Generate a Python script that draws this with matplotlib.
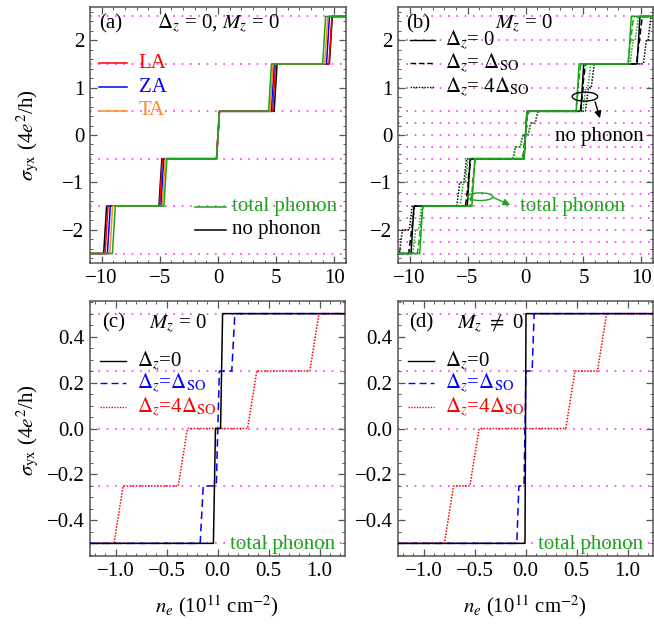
import numpy as np
import matplotlib
matplotlib.use("Agg")
import matplotlib.pyplot as plt
from matplotlib.lines import Line2D
from matplotlib.patches import Ellipse, FancyArrowPatch
from matplotlib.ticker import MultipleLocator, FuncFormatter
from matplotlib import font_manager

serif_choices = [f.name for f in font_manager.fontManager.ttflist]
SERIF = "Liberation Serif" if "Liberation Serif" in serif_choices else "STIXGeneral"
plt.rcParams["font.family"] = "serif"
plt.rcParams["font.serif"] = [SERIF, "STIXGeneral", "DejaVu Serif"]
plt.rcParams["mathtext.fontset"] = "stix"

FS = 15
GREEN = "#1aa51a"
ORANGE = "#ff8a1c"
MAGENTA = "#ff33ff"
FRAME = "#555555"

# ---------------- data ----------------
# plateau values (units of 4e^2/h)
plateaus_int = [-2.5, -1.5, -0.5, 0.5, 1.5, 2.5]

# (a) step centres, n_e in 10^11 cm^-2
a_nophonon = [-9.7, -4.95, 0.0, 4.95, 9.7]
a_LA = [-9.58, -4.9, 0.0, 4.82, 9.66]
a_ZA = [-9.38, -4.78, 0.0, 4.7, 9.45]
a_TA = [-9.18, -4.66, 0.0, 4.6, 9.3]
a_total = [-8.95, -4.52, 0.0, 4.47, 9.12]

# (b) step centres and plateau values
b_nophonon_0 = [-9.75, -4.9, 0.0, 4.9, 9.75]
b_total_0 = [-9.0, -4.5, 0.0, 4.5, 9.0]
b_vals_1 = [-2.5, -2.0, -1.5, -1.0, -0.5, -0.25, 0.25, 0.5, 1.0, 1.5, 2.0, 2.5]
b_nophonon_1 = [-9.95, -9.7, -5.05, -4.85, -0.16, 0.0, 0.16, 4.85, 5.05, 9.7, 9.95]
b_total_1 = [-9.2, -8.95, -4.65, -4.45, -0.16, 0.0, 0.16, 4.45, 4.65, 8.95, 9.2]
b_vals_4 = [-2.5, -2.0, -1.5, -1.0, -0.5, -0.25, 0.0, 0.25, 0.5, 1.0, 1.5, 2.0, 2.5]
b_nophonon_4 = [-10.75, -9.9, -5.8, -5.2, -0.97, -0.34, 0.34, 0.95, 5.3, 5.8, 10.3, 10.7]
b_total_4 = [-9.6, -9.1, -5.5, -5.07, -0.97, -0.34, 0.34, 0.95, 5.07, 5.5, 9.15, 9.6]

# (c) M_z = 0, total phonon
c_dz0 = [-0.03, 0.04]
c_dz0_vals = [-0.5, 0.0, 0.5]
c_dz1 = [-0.155, 0.003, 0.155]
c_dz1_vals = [-0.5, -0.25, 0.25, 0.5]
c_dz4 = [-0.97, -0.34, 0.34, 0.95]
c_dz4_vals = [-0.5, -0.25, 0.0, 0.25, 0.5]

# (d) M_z != 0, total phonon
d_dz0 = [0.0]
d_dz0_vals = [-0.5, 0.5]
d_dz1 = [-0.075, -0.005, 0.075]
d_dz1_vals = [-0.5, -0.25, 0.25, 0.5]
d_dz4 = [-0.75, -0.5, 0.44, 0.75]
d_dz4_vals = [-0.5, -0.25, 0.0, 0.25, 0.5]

grid_a = [-2.5, -1.5, -0.5, 0.5, 1.5, 2.5]
grid_b = [-2.5, -2.25, -2.0, -1.75, -1.5, -1.25, -1.0, -0.75, -0.5, -0.25,
          0.0, 0.25, 0.5, 1.0, 1.5, 2.0, 2.5]
grid_cd = [-0.5, -0.25, 0.0, 0.25, 0.5]


def staircase(centres, values, width, xlim):
    """Polyline through plateaus joined by short linear ramps."""
    xs = [xlim[0]]
    ys = [values[0]]
    for c, y0, y1 in zip(centres, values[:-1], values[1:]):
        xs += [c - width / 2, c + width / 2]
        ys += [y0, y1]
    xs.append(xlim[1])
    ys.append(values[-1])
    return np.array(xs), np.array(ys)


fig = plt.figure(figsize=(6.54, 6.25), dpi=100)
W, H = 654.0, 625.0


def add_ax(x0, y0, x1, y1):
    return fig.add_axes([x0 / W, 1 - y1 / H, (x1 - x0) / W, (y1 - y0) / H])


ax_a = add_ax(90, 7, 346, 263)
ax_b = add_ax(398, 7, 653, 263)
ax_c = add_ax(90, 301, 345, 556)
ax_d = add_ax(398, 301, 653, 556)


def minus_fmt(decimals):
    def f(v, pos):
        s = f"{abs(v):.{decimals}f}"
        if abs(v) < 1e-9:
            return s
        return ("\u2212" if v < 0 else "") + s
    return FuncFormatter(f)


def style(ax, xlim, ylim, xmaj, xmin, ymaj, ymin, dec_x, dec_y):
    ax.set_xlim(*xlim)
    ax.set_ylim(*ylim)
    ax.xaxis.set_major_locator(MultipleLocator(xmaj))
    ax.xaxis.set_minor_locator(MultipleLocator(xmin))
    ax.yaxis.set_major_locator(MultipleLocator(ymaj))
    ax.yaxis.set_minor_locator(MultipleLocator(ymin))
    ax.xaxis.set_major_formatter(minus_fmt(dec_x))
    ax.yaxis.set_major_formatter(minus_fmt(dec_y))
    ax.tick_params(which="both", direction="in", top=True, right=True,
                   color=FRAME, labelsize=FS, pad=4)
    ax.tick_params(which="major", length=5, width=0.9)
    ax.tick_params(which="minor", length=2.5, width=0.7)
    for s in ax.spines.values():
        s.set_color(FRAME)
        s.set_linewidth(1.1)


def hgrid(ax, levels, xlim):
    for y in levels:
        ax.plot(xlim, [y, y], color=MAGENTA, lw=1.2, ls=(0, (1, 4)), zorder=1)


# ---------------- (a) ----------------
XL = (-11, 11)
style(ax_a, XL, (-2.7, 2.7), 5, 1, 1, 0.2, 0, 0)
hgrid(ax_a, grid_a, XL)
for cen, col in [(a_nophonon, "black"), (a_LA, "red"), (a_ZA, "blue"),
                 (a_TA, ORANGE), (a_total, GREEN)]:
    x, y = staircase(cen, plateaus_int, 0.25, XL)
    ax_a.plot(x, y, color=col, lw=1.1, zorder=3)

ax_a.text(0.08, 0.936, "(a)", transform=ax_a.transAxes, fontsize=FS,
          ha="center", va="center")
ax_a.text(0.50, 0.936, r"$\Delta_z$ = 0, $M_z$ = 0", transform=ax_a.transAxes,
          fontsize=FS, ha="center", va="center")
for yy, lab, col in [(0.78, "LA", "red"), (0.686, "ZA", "blue"), (0.594, "TA", ORANGE)]:
    ax_a.add_line(Line2D([0.035, 0.145], [yy, yy], color=col, lw=1.1,
                         transform=ax_a.transAxes))
    ax_a.text(0.19, yy, lab, color=col, fontsize=FS, transform=ax_a.transAxes,
              va="center", ha="left")
for yy, lab, col in [(0.22, "total phonon", GREEN), (0.129, "no phonon", "black")]:
    ax_a.add_line(Line2D([0.41, 0.53], [yy, yy], color=col, lw=1.1,
                         transform=ax_a.transAxes))
    ax_a.text(0.553, yy, lab, color=col, fontsize=FS, transform=ax_a.transAxes,
              va="center", ha="left")

# ---------------- (b) ----------------
style(ax_b, XL, (-2.7, 2.7), 5, 1, 1, 0.2, 0, 0)
hgrid(ax_b, grid_b, XL)
curves_b = [
    (b_nophonon_0, plateaus_int, "black", "-"),
    (b_nophonon_1, b_vals_1, "black", (0, (4, 2))),
    (b_nophonon_4, b_vals_4, "black", (0, (1, 1))),
    (b_total_1, b_vals_1, GREEN, (0, (4, 2))),
    (b_total_4, b_vals_4, GREEN, (0, (1, 1))),
    (b_total_0, plateaus_int, GREEN, "-"),
]
for cen, vals, col, ls in curves_b:
    x, y = staircase(cen, vals, 0.25, XL)
    ax_b.plot(x, y, color=col, lw=1.1, ls=ls, zorder=3)

ax_b.text(0.078, 0.936, "(b)", transform=ax_b.transAxes, fontsize=FS,
          ha="center", va="center")
ax_b.text(0.494, 0.936, r"$M_z$ = 0", transform=ax_b.transAxes,
          fontsize=FS, ha="center", va="center")
for yy, lab, ls in [(0.871, r"$\Delta_z$= 0", "-"),
                    (0.78, r"$\Delta_z$= $\Delta_{\rm SO}$", (0, (4, 2))),
                    (0.686, r"$\Delta_z$= 4$\Delta_{\rm SO}$", (0, (1, 1)))]:
    ax_b.add_line(Line2D([0.047, 0.145], [yy, yy], color="black", lw=1.0, ls=ls,
                         transform=ax_b.transAxes))
    ax_b.text(0.184, yy, lab, fontsize=FS, transform=ax_b.transAxes,
              va="center", ha="left")
ax_b.text(0.616, 0.494, "no phonon", fontsize=FS, transform=ax_b.transAxes,
          va="center", ha="left")
ax_b.text(0.479, 0.22, "total phonon", color=GREEN, fontsize=FS,
          transform=ax_b.transAxes, va="center", ha="left")
ax_b.add_patch(Ellipse((0.733, 0.650), 0.1, 0.035, transform=ax_b.transAxes,
                       fill=False, ec="black", lw=1.0, zorder=5))
ax_b.add_patch(FancyArrowPatch((0.77, 0.640), (0.795, 0.555), transform=ax_b.transAxes,
                               arrowstyle="-|>", mutation_scale=10, color="black",
                               lw=1.0, zorder=5))
ax_b.add_patch(Ellipse((0.322, 0.259), 0.1, 0.03, transform=ax_b.transAxes,
                       fill=False, ec=GREEN, lw=1.0, zorder=5))
ax_b.add_patch(FancyArrowPatch((0.36, 0.262), (0.45, 0.222), transform=ax_b.transAxes,
                               arrowstyle="-|>", mutation_scale=10, color=GREEN,
                               lw=1.0, zorder=5))

# ---------------- (c), (d) ----------------
XL2 = (-1.25, 1.25)
for ax, data, lab, tag in [
    (ax_c, [(c_dz0, c_dz0_vals, 0.02), (c_dz1, c_dz1_vals, 0.03), (c_dz4, c_dz4_vals, 0.09)],
     r"$M_z$ = 0", "(c)"),
    (ax_d, [(d_dz0, d_dz0_vals, 0.01), (d_dz1, d_dz1_vals, 0.02), (d_dz4, d_dz4_vals, 0.09)],
     r"$M_z$ $\neq$ 0", "(d)"),
]:
    style(ax, XL2, (-0.555, 0.555), 0.5, 0.1, 0.2, 0.05, 1, 1)
    hgrid(ax, grid_cd, XL2)
    styles = [("black", "-"), ("blue", (0, (5, 3))), ("red", (0, (1, 1)))]
    for (cen, vals, w), (col, ls) in zip(data[::-1], styles[::-1]):
        x, y = staircase(cen, vals, w, XL2)
        ax.plot(x, y, color=col, lw=1.1, ls=ls, zorder=3)
    ax.text(0.092, 0.9125, tag, transform=ax.transAxes, fontsize=FS,
            ha="center", va="center")
    ax.text(0.232, 0.9125, lab, transform=ax.transAxes, fontsize=FS,
            ha="left", va="center")
    for yy, txt, (col, ls) in zip([0.765, 0.677, 0.585],
                                  [r"$\Delta_z$=0", r"$\Delta_z$=$\Delta_{\rm SO}$",
                                   r"$\Delta_z$=4$\Delta_{\rm SO}$"], styles):
        ax.add_line(Line2D([0.04, 0.143], [yy, yy], color=col, lw=1.0, ls=ls,
                           transform=ax.transAxes))
        ax.text(0.183, yy, txt, color=col, fontsize=FS, transform=ax.transAxes,
                va="center", ha="left")
    ax.text(0.96, 0.045, "total phonon", color=GREEN, fontsize=FS,
            transform=ax.transAxes, va="center", ha="right")

# axis labels
ylab = r"$\sigma_{\rm yx}$ (4$e^2$/h)"
fig.text(28 / W, 1 - 135 / H, ylab, rotation=90, fontsize=FS, ha="center", va="center")
fig.text(28 / W, 1 - 430 / H, ylab, rotation=90, fontsize=FS, ha="center", va="center")
xlab = r"$n_e$ (10$^{11}$ cm$^{-2}$)"
fig.text(217 / W, 1 - 606 / H, xlab, fontsize=FS, ha="center", va="center")
fig.text(525 / W, 1 - 606 / H, xlab, fontsize=FS, ha="center", va="center")

fig.savefig("out.png", dpi=100)
